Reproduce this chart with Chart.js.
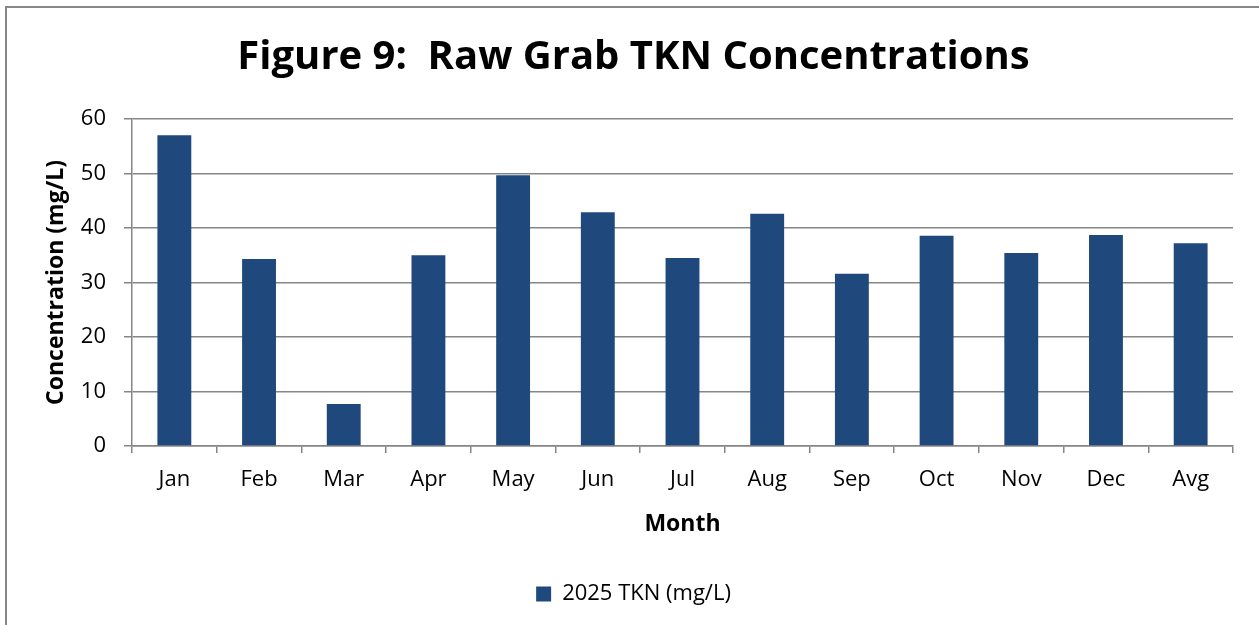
<!DOCTYPE html>
<html>
<head>
<meta charset="utf-8">
<script src="https://cdn.jsdelivr.net/npm/chart.js@4"></script>
<style>
  html, body { margin: 0; padding: 0; background: #fff; }
  #wrap { position: relative; width: 1259px; height: 625px; overflow: hidden; }
  #frame { position: absolute; left: 5px; top: 6px; width: 1300px; height: 700px;
           border-left: 2px solid #878787; border-top: 2px solid #878787; }
  #chart { position: absolute; left: 0; top: 0; }
</style>
</head>
<body>
<div id="wrap">
  <div id="frame"></div>
  <canvas id="chart" width="1259" height="625"></canvas>
</div>
<script>
// данные с графика
const months = ['Jan', 'Feb', 'Mar', 'Apr', 'May', 'Jun', 'Jul', 'Aug', 'Sep', 'Oct', 'Nov', 'Dec', 'Avg'];
const tkn2025 = [57.0, 34.3, 7.7, 35.0, 49.7, 42.9, 34.5, 42.6, 31.6, 38.6, 35.4, 38.7, 37.2];
const yTicks = [0, 10, 20, 30, 40, 50, 60];

const FONT = "'Open Sans', 'DejaVu Sans', sans-serif";
const gridColor = '#868686';

const ctx = document.getElementById('chart').getContext('2d');
new Chart(ctx, {
  type: 'bar',
  data: {
    labels: months,
    datasets: [{
      label: '2025 TKN (mg/L)',
      data: tkn2025,
      backgroundColor: '#1f497d',
      borderWidth: 0,
      categoryPercentage: 1.0,
      barPercentage: 0.4
    }]
  },
  options: {
    responsive: false,
    animation: false,
    layout: { padding: { left: 34, right: 26, top: 0, bottom: 10 } },
    plugins: {
      title: {
        display: true,
        text: 'Figure 9:  Raw Grab TKN Concentrations',
        color: '#000',
        font: { family: FONT, size: 40, weight: 'bold' },
        padding: { top: 34, bottom: 37 }
      },
      legend: {
        display: true,
        position: 'bottom',
        labels: {
          color: '#000',
          font: { family: FONT, size: 22 },
          boxWidth: 15,
          boxHeight: 15,
          padding: 10
        }
      },
      tooltip: { enabled: false }
    },
    scales: {
      x: {
        afterFit: axis => { axis.height = 127; },
        grid: {
          display: true,
          drawOnChartArea: false,
          drawTicks: true,
          tickLength: 7,
          color: gridColor,
          lineWidth: 1.5,
          offset: true
        },
        border: { display: true, color: gridColor, width: 1.5 },
        ticks: { color: '#000', font: { family: FONT, size: 22 }, padding: 14 },
        title: {
          display: true,
          text: 'Month',
          color: '#000',
          font: { family: FONT, size: 23, weight: 'bold' },
          padding: { top: 35, bottom: 35 }
        }
      },
      y: {
        min: 0,
        max: 60,
        afterFit: axis => { axis.width = 98; },
        afterBuildTicks: axis => { axis.ticks = yTicks.map(v => ({ value: v })); },
        grid: {
          color: gridColor,
          lineWidth: 1.5,
          drawTicks: true,
          tickLength: 8
        },
        border: { display: true, color: gridColor, width: 1.5 },
        ticks: { color: '#000', font: { family: FONT, size: 22 }, padding: 18 },
        title: {
          display: true,
          text: 'Concentration (mg/L)',
          color: '#000',
          font: { family: FONT, size: 23, weight: 'bold' },
          padding: { top: 9, bottom: 9 }
        }
      }
    }
  }
});
</script>
</body>
</html>
